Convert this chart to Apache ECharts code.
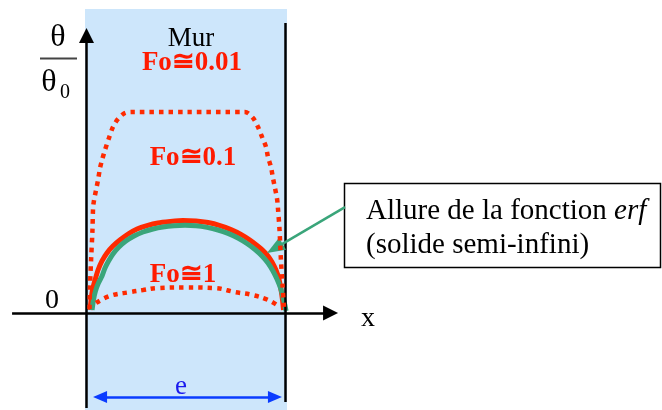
<!DOCTYPE html>
<html>
<head>
<meta charset="utf-8">
<script src="https://cdn.jsdelivr.net/npm/echarts@6/dist/echarts.min.js"></script>
<style>
  html, body { margin: 0; padding: 0; background: #fff; }
  #c { width: 662px; height: 410px; }
</style>
</head>
<body>
<div id="c"></div>
<script>
// Reduced temperature θ/θ0 across a wall of thickness e (x from 0 to 1)
const foSmall = [ // Fo ≅ 0.01
  [0.015, 0.020], [0.018, 0.139], [0.023, 0.264], [0.030, 0.413], [0.033, 0.522],
  [0.038, 0.562], [0.048, 0.612], [0.058, 0.662], [0.068, 0.721], [0.078, 0.761],
  [0.093, 0.811], [0.113, 0.871], [0.133, 0.925], [0.158, 0.965], [0.193, 0.995],
  [0.229, 1.000], [0.510, 1.000], [0.796, 1.000], [0.837, 0.970], [0.862, 0.925],
  [0.882, 0.876], [0.902, 0.826], [0.912, 0.776], [0.927, 0.726], [0.937, 0.672],
  [0.947, 0.622], [0.957, 0.572], [0.962, 0.522], [0.970, 0.413], [0.977, 0.264],
  [0.985, 0.139], [0.992, 0.030]
];
const foMid = [ // Fo ≅ 0.1
  [0.018, 0.015], [0.023, 0.065], [0.030, 0.114], [0.043, 0.164], [0.058, 0.214],
  [0.078, 0.259], [0.103, 0.299], [0.133, 0.333], [0.168, 0.363], [0.209, 0.393],
  [0.254, 0.418], [0.304, 0.435], [0.359, 0.448], [0.420, 0.455], [0.485, 0.460],
  [0.550, 0.458], [0.611, 0.450], [0.671, 0.435], [0.726, 0.415], [0.776, 0.391],
  [0.821, 0.363], [0.857, 0.336], [0.887, 0.311], [0.912, 0.284], [0.932, 0.254],
  [0.952, 0.214], [0.967, 0.169], [0.977, 0.119], [0.985, 0.065], [0.990, 0.015]
];
const foLarge = [ // Fo ≅ 1
  [0.048, 0.050], [0.118, 0.085], [0.219, 0.104], [0.284, 0.114], [0.354, 0.124],
  [0.500, 0.127], [0.646, 0.124], [0.746, 0.104], [0.832, 0.090], [0.912, 0.065],
  [0.972, 0.030]
];
const erfCurve = [ // semi-infinite solid (erf profile)
  [0.028, 0.015], [0.035, 0.065], [0.045, 0.109], [0.060, 0.149], [0.078, 0.184],
  [0.093, 0.224], [0.111, 0.259], [0.133, 0.294], [0.163, 0.328], [0.198, 0.358],
  [0.239, 0.383], [0.284, 0.403], [0.334, 0.418], [0.384, 0.428], [0.440, 0.434],
  [0.495, 0.436], [0.550, 0.434], [0.606, 0.426], [0.661, 0.413], [0.711, 0.396],
  [0.761, 0.373], [0.806, 0.346], [0.847, 0.316], [0.882, 0.284], [0.912, 0.249],
  [0.937, 0.209], [0.957, 0.169], [0.975, 0.124], [0.987, 0.080], [0.997, 0.040],
  [1.003, 0.010]
];
const curveLabels = ['Fo≅0.01', 'Fo≅0.1', 'Fo≅1'];

// Plot frame: the grid fills the page, origin of (x, θ/θ0) sits on the wall face
const W = 662, H = 410;
const ORIGIN_X = 86.5, UNIT_X = 199, ORIGIN_Y = 313, UNIT_Y = 201;
const X_MIN = -ORIGIN_X / UNIT_X, X_MAX = (W - ORIGIN_X) / UNIT_X;
const Y_MIN = -(H - ORIGIN_Y) / UNIT_Y, Y_MAX = ORIGIN_Y / UNIT_Y;

// Axis / wall / dimension extents in data units
const X_AXIS = { y: 0, from: -0.374, to: 1.264 };
const Y_AXIS = { x: 0, from: -0.473, to: 1.418 };
const RIGHT_WALL = { x: 1, from: -0.443, to: 1.443 };
const THICKNESS = { y: -0.418, from: 0.033, to: 0.982 };
const POINTER = { from: [1.299, 0.527], to: [0.907, 0.299] };

// Pull an arrow end back by half its head length so the triangle tip lands on it
function headEnd(tip, from, back) {
  const dx = (tip[0] - from[0]) * UNIT_X;
  const dy = (tip[1] - from[1]) * UNIT_Y;
  const len = Math.hypot(dx, dy);
  return [tip[0] - dx / len * back / UNIT_X, tip[1] - dy / len * back / UNIT_Y];
}

const RED = '#ff2a00', GREEN = '#3aa57a', BLUE = '#0a3cff';
const dotted = { color: RED, width: 4.5, type: [4.5, 5], cap: 'butt' };

function curve(name, data, lineStyle, z, smooth) {
  return {
    name, type: 'line', data, z, smooth,
    symbol: 'none', silent: true, animation: false, lineStyle
  };
}

function arrows(name, segments, color, width, symbol, size) {
  return {
    name, type: 'line', data: [], silent: true, animation: false, z: 4,
    markLine: {
      silent: true, animation: false, symbol, symbolSize: size,
      label: { show: false },
      lineStyle: { color, width, type: 'solid', opacity: 1 },
      emphasis: { disabled: true },
      data: segments.map(s => [{ coord: s[0] }, { coord: s[1] }])
    }
  };
}

const xTip = headEnd([X_AXIS.to, 0], [X_AXIS.from, 0], 7.5);
const yTip = headEnd([0, Y_AXIS.to], [0, Y_AXIS.from], 7.5);
const eL = headEnd([THICKNESS.from, THICKNESS.y], [THICKNESS.to, THICKNESS.y], 7);
const eR = headEnd([THICKNESS.to, THICKNESS.y], [THICKNESS.from, THICKNESS.y], 7);
const pTip = headEnd(POINTER.to, POINTER.from, 9);

const serif = '"Liberation Serif", "Times New Roman", serif';
const label = (text, x, y, font, fill, align) => ({
  type: 'text', z: 10, x, y,
  style: { text, font: font + ' ' + serif, fill, align: align || 'center', verticalAlign: 'middle' }
});

const option = {
  animation: false,
  grid: { left: 0, right: 0, top: 0, bottom: 0 },
  xAxis: { type: 'value', min: X_MIN, max: X_MAX, show: false },
  yAxis: { type: 'value', min: Y_MIN, max: Y_MAX, show: false },
  graphic: [
    { type: 'rect', z: -10, shape: { x: 85, y: 9, width: 202, height: 401 },
      style: { fill: '#cde6fb' } },
    { type: 'rect', z: 1, shape: { x: 344.5, y: 183.5, width: 316, height: 84 },
      style: { fill: '#fff', stroke: '#000', lineWidth: 1.5 } },
    { type: 'text', z: 10, x: 366, y: 211,
      style: { text: 'Allure de la fonction {i|erf}', font: '29px ' + serif, fill: '#000',
        verticalAlign: 'middle', rich: { i: { font: 'italic 29px ' + serif, fill: '#000' } } } },
    label('(solide semi-infini)', 366, 245, '29px', '#000', 'left'),
    label('Mur', 191, 39, '27px', '#000'),
    label(curveLabels[0], 192, 63, 'bold 27px', '#ff1a00'),
    label(curveLabels[1], 193, 158, 'bold 27px', '#ff1a00'),
    label(curveLabels[2], 183, 275, 'bold 27px', '#ff1a00'),
    label('0', 52, 301, '28px', '#000'),
    label('x', 368, 319, '28px', '#000'),
    label('e', 181, 387, '27px', '#1a1aee'),
    // θ / θ0 ordinate label
    label('θ', 58, 38, '32px', '#000'),
    { type: 'line', z: 10, shape: { x1: 40, y1: 58.5, x2: 77, y2: 58.5 },
      style: { stroke: '#444', lineWidth: 2 } },
    label('θ', 49, 83, '32px', '#000'),
    label('0', 65, 93, '20px', '#000')
  ],
  series: [
    curve('Fo≅0.1', foMid, { color: RED, width: 5 }, 2, 0.2),
    curve('erf', erfCurve, { color: GREEN, width: 5 }, 3, 0.2),
    curve('Fo≅0.01', foSmall, dotted, 5, 0.3),
    curve('Fo≅1', foLarge, dotted, 5, 0.4),
    arrows('axes', [
      [[X_AXIS.from, 0], xTip],
      [[0, Y_AXIS.from], yTip]
    ], '#000', 2.5, ['none', 'triangle'], [15, 15]),
    arrows('wall', [
      [[RIGHT_WALL.x, RIGHT_WALL.from], [RIGHT_WALL.x, RIGHT_WALL.to]]
    ], '#000', 2.5, ['none', 'none'], 1),
    arrows('thickness', [[eL, eR]], BLUE, 2.5, ['triangle', 'triangle'], [12, 14]),
    arrows('pointer', [[POINTER.from, pTip]], GREEN, 2.5, ['none', 'triangle'], [14, 18])
  ]
};

const chart = echarts.init(document.getElementById('c'), null, { renderer: 'canvas' });
chart.setOption(option);
</script>
</body>
</html>
